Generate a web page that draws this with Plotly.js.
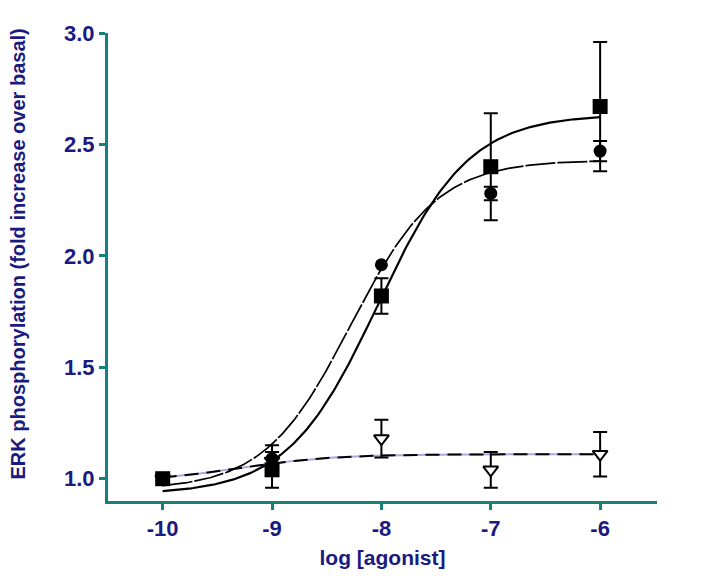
<!DOCTYPE html>
<html>
<head>
<meta charset="utf-8">
<script src="https://cdn.plot.ly/plotly-3.0.1.min.js"></script>
<style>html,body{margin:0;padding:0;background:#fff;}#chart{width:722px;height:578px;}</style>
</head>
<body>
<div id="chart"></div>
<script>
// Data
var logDose = [-10, -9, -8, -7, -6];
var squareMean = [1.00, 1.04, 1.82, 2.40, 2.67];
var squareErr  = [NaN, 0.08, 0.08, 0.24, 0.29];
var circleMean = [1.00, 1.09, 1.96, 2.28, 2.47];
var circleErr  = [NaN, 0.06, NaN, 0.03, 0.045];
var triMean    = [1.00, 1.08, 1.18, 1.04, 1.11];
var triErr     = [NaN, 0.04, 0.085, 0.08, 0.10];
// Fitted sigmoid parameters [bottom, top, logEC50, hill]
var squareFit = [0.93, 2.635, -8.03, 1.05];
var circleFit = [0.95, 2.43, -8.28, 1.1];
var triFit    = [0.985, 1.11, -9.3, 1.0];
var xTicks = [-10, -9, -8, -7, -6];
var yTicks = [1.0, 1.5, 2.0, 2.5, 3.0];
var yTitle = 'ERK phosphorylation (fold increase over basal)';
var xTitle = 'log [agonist]';

function hill(p, x) { return p[0] + (p[1] - p[0]) / (1 + Math.pow(10, (p[2] - x) * p[3])); }
function curve(p) {
  var xs = [], ys = [];
  for (var i = 0; i <= 200; i++) { var x = -10 + 4 * i / 200; xs.push(x); ys.push(hill(p, x)); }
  return {x: xs, y: ys};
}
var cs = curve(squareFit), cc = curve(circleFit), ct = curve(triFit);

var navy = '#1a1a80', teal = '#17807a';
var fam = 'Liberation Sans, Arial, sans-serif';
var traces = [
  {x: ct.x, y: ct.y, mode: 'lines', line: {color: '#a8a8e8', width: 2}, hoverinfo: 'skip'},
  {x: ct.x, y: ct.y, mode: 'lines', line: {color: '#000', width: 2, dash: '14px,8px'}, hoverinfo: 'skip'},
  {x: cc.x, y: cc.y, mode: 'lines', line: {color: '#000', width: 1.7, dash: '30px,2px'}, hoverinfo: 'skip'},
  {x: cs.x, y: cs.y, mode: 'lines', line: {color: '#000', width: 2.2}, hoverinfo: 'skip'},
  {x: logDose, y: triMean, mode: 'markers', type: 'scatter',
   marker: {symbol: 'triangle-down', size: 13, color: '#fff', line: {color: '#000', width: 2}},
   error_y: {type: 'data', array: triErr, color: '#000', thickness: 2, width: 7}},
  {x: logDose, y: circleMean, mode: 'markers', type: 'scatter',
   marker: {symbol: 'circle', size: 13, color: '#000'},
   error_y: {type: 'data', array: circleErr, color: '#000', thickness: 2, width: 7}},
  {x: logDose, y: squareMean, mode: 'markers', type: 'scatter',
   marker: {symbol: 'square', size: 15, color: '#000'},
   error_y: {type: 'data', array: squareErr, color: '#000', thickness: 2, width: 7}}
];

var layout = {
  width: 722, height: 578,
  margin: {l: 108, r: 65, t: 33, b: 77},
  paper_bgcolor: '#fff', plot_bgcolor: '#fff',
  showlegend: false,
  font: {family: fam, color: navy},
  xaxis: {
    range: [-10.5, -5.48], tickvals: xTicks, ticktext: xTicks.map(String),
    showgrid: false, zeroline: false, showline: true, linecolor: teal, linewidth: 3,
    ticks: 'outside', ticklen: 6, tickwidth: 3, tickcolor: teal,
    tickfont: {size: 22, color: navy, family: fam, weight: 'bold'},
    title: {text: '<b>' + xTitle + '</b>', font: {size: 21, color: navy, family: fam}, standoff: 10}
  },
  yaxis: {
    range: [0.9, 3.0], tickvals: yTicks, ticktext: yTicks.map(function(v){return v.toFixed(1);}),
    showgrid: false, zeroline: false, showline: true, linecolor: teal, linewidth: 3,
    ticks: 'outside', ticklen: 6, tickwidth: 3, tickcolor: teal,
    tickfont: {size: 22, color: navy, family: fam, weight: 'bold'}
  },
  annotations: [{
    text: '<b>' + yTitle + '</b>', textangle: -90, showarrow: false,
    xref: 'paper', yref: 'paper', x: (18 - 108) / 549, y: (500 - 254) / 467,
    xanchor: 'center', yanchor: 'middle',
    font: {size: 20, color: navy, family: fam}
  }]
};
Plotly.newPlot('chart', traces, layout, {displayModeBar: false, staticPlot: true});
</script>
</body>
</html>
